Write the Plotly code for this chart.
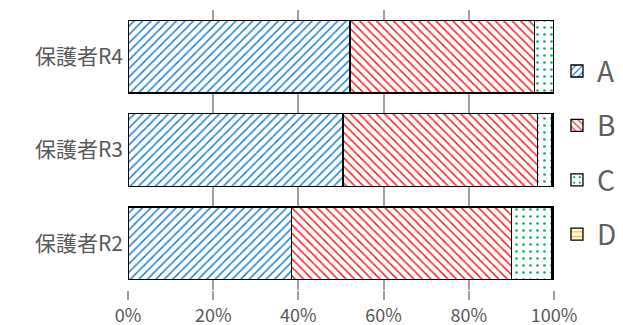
import plotly.graph_objects as go

categories = ["保護者R2", "保護者R3", "保護者R4"]
series_names = ["A", "B", "C", "D"]
vals_A = [38.3, 50.5, 52.1]
vals_B = [51.8, 45.7, 43.4]
vals_C = [9.4, 3.3, 4.5]
vals_D = [0.5, 0.5, 0.0]
tick_vals = [0, 20, 40, 60, 80, 100]
tick_text = ["0%", "20%", "40%", "60%", "80%", "100%"]

colors = ["#1a7fd0", "#ff1a1a", "#10b060", "#ffc000"]
shapes = ["/", "\\", ".", "-"]
sizes = [6, 6, 7, 6]
solidities = [0.25, 0.25, 0.12, 0.3]
all_vals = [vals_A, vals_B, vals_C, vals_D]

fig = go.Figure()
for name, v, c, s, sz, so in zip(series_names, all_vals, colors, shapes, sizes, solidities):
    fig.add_trace(go.Bar(
        y=categories, x=v, name=name, orientation="h", legendgroup=name,
        marker=dict(color="white", line=dict(color="black", width=1.3),
                    pattern=dict(shape=s, fgcolor=c, bgcolor="white", fgopacity=1,
                                 size=sz, solidity=so, fillmode="overlay")),
    ))

# page body has an 8px default margin; compensate in figure margins
fig.update_layout(
    barmode="stack", bargap=0.22,
    width=623, height=325,
    margin=dict(l=120, r=77, t=2, b=43, autoexpand=False),
    plot_bgcolor="white", paper_bgcolor="white",
    font=dict(family="Noto Sans CJK JP", color="#595959", size=17),
    legend=dict(x=1.007, y=0.49, yanchor="middle", xanchor="left",
                font=dict(size=28, color="#606060"),
                tracegroupgap=15, itemwidth=30),
    showlegend=True,
)
fig.update_xaxes(range=[0, 100], tickvals=tick_vals, ticktext=tick_text,
                 showgrid=True, gridcolor="#a0a0a0", gridwidth=1.5,
                 ticks="outside", ticklen=9, tickcolor="#a0a0a0", tickwidth=1.5,
                 zeroline=False, showline=False, tickfont=dict(size=18),
                 automargin=False, ticklabelstandoff=0)
fig.update_yaxes(showgrid=False, ticks="", tickfont=dict(size=21),
                 automargin=False, ticklabelstandoff=4)

fig.write_html("out.html")
